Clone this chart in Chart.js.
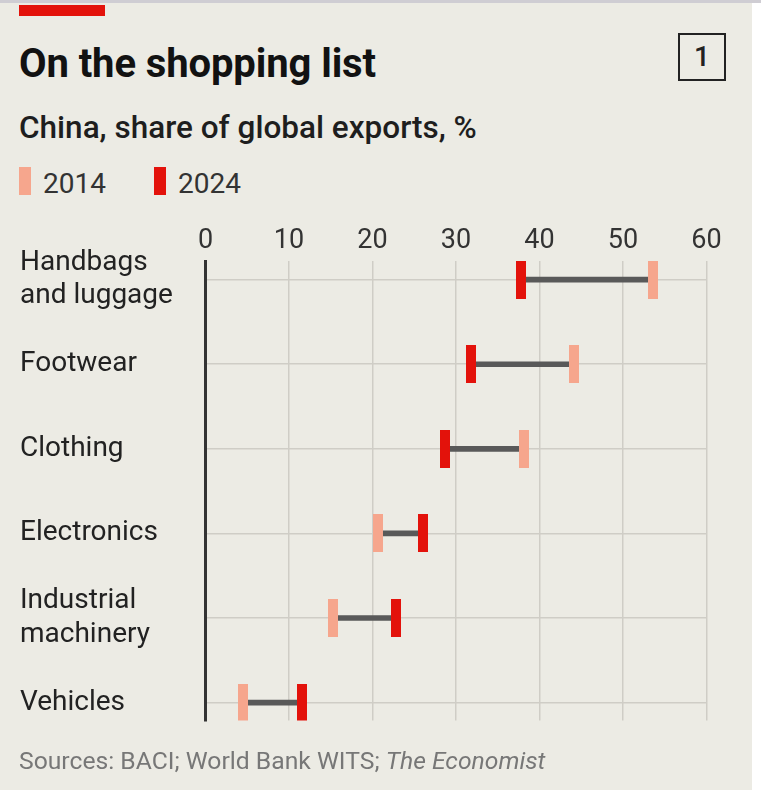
<!DOCTYPE html>
<html>
<head>
<meta charset="utf-8">
<title>On the shopping list</title>
<script src="https://cdn.jsdelivr.net/npm/chart.js@4.4.1/dist/chart.umd.min.js"></script>
<style>
  body { margin: 0; background: #fff; font-family: Roboto, sans-serif; }
  .abs { position: absolute; white-space: nowrap; line-height: 1; }
  #topline { left: 0; top: 0; width: 761px; height: 3px; background: #cfcdd3; }
  #card { left: 0; top: 3px; width: 752px; height: 787px; background: #ecebe4; }
  #redbar { left: 19px; top: 5px; width: 86px; height: 11px; background: #e3120b; }
  #title { left: 19px; top: 44px; font-size: 40px; font-weight: 700; color: #121212; letter-spacing: -0.1px; }
  #num { left: 678px; top: 33px; width: 44px; height: 44px; border: 2px solid #222; font-size: 28px; font-weight: 500; color: #222; text-align: center; line-height: 44px; }
  #subtitle { left: 19px; top: 112px; font-size: 31.5px; font-weight: 500; color: #1e1e1e; }
  .swatch { top: 167px; width: 12px; height: 28px; }
  .legtext { top: 170px; font-size: 28px; color: #333; }
  #source { left: 19px; top: 749px; font-size: 24.7px; color: #777; }
  #chartbox { position: absolute; left: 0; top: 215px; }
</style>
</head>
<body>
<div class="abs" id="topline"></div>
<div class="abs" id="card"></div>
<div class="abs" id="redbar"></div>
<div class="abs" id="title">On the shopping list</div>
<div class="abs" id="num">1</div>
<div class="abs" id="subtitle">China, share of global exports, %</div>
<div class="abs swatch" style="left:19px;background:#f6a68d"></div>
<div class="abs legtext" style="left:43px">2014</div>
<div class="abs swatch" style="left:154px;background:#e3120b"></div>
<div class="abs legtext" style="left:178px">2024</div>
<div id="chartbox"><canvas id="dumbbell" width="752" height="539"></canvas></div>
<div class="abs" id="source">Sources: BACI; World Bank WITS; <i>The Economist</i></div>

<script>
// categories, top to bottom
const categories = ['Handbags and luggage', 'Footwear', 'Clothing', 'Electronics', 'Industrial machinery', 'Vehicles'];
const categoryLabels = [['Handbags', 'and luggage'], 'Footwear', 'Clothing', 'Electronics', ['Industrial', 'machinery'], 'Vehicles'];

// China, share of global exports, %
const share2014 = [53.6, 44.1, 38.2, 20.7, 15.3, 4.5];
const share2024 = [37.8, 31.8, 28.7, 26.1, 22.8, 11.5];

const xTicks = [0, 10, 20, 30, 40, 50, 60];

const pink = '#f6a68d';
const red = '#e3120b';
const gridColor = '#cfcdc6';

// tall thin marker used as point style
function makeMark(color) {
  const c = document.createElement('canvas');
  c.width = 10;
  c.height = 38;
  const g = c.getContext('2d');
  g.fillStyle = color;
  g.fillRect(0, 0, 10, 38);
  return c;
}

Chart.defaults.font.family = 'Roboto';

const ctx = document.getElementById('dumbbell').getContext('2d');
new Chart(ctx, {
  type: 'bar',
  data: {
    datasets: [
      {
        // connector between the two years
        type: 'bar',
        indexAxis: 'y',
        data: categories.map((c, i) => ({ y: i, x: [Math.min(share2014[i], share2024[i]), Math.max(share2014[i], share2024[i])] })),
        backgroundColor: '#595959',
        borderWidth: 0,
        borderSkipped: false,
        barThickness: 5,
        order: 3
      },
      {
        type: 'scatter',
        label: '2014',
        data: categories.map((c, i) => ({ x: share2014[i], y: i })),
        pointStyle: makeMark(pink),
        pointRadius: 5,
        order: 2
      },
      {
        type: 'scatter',
        label: '2024',
        data: categories.map((c, i) => ({ x: share2024[i], y: i })),
        pointStyle: makeMark(red),
        pointRadius: 5,
        order: 1
      }
    ]
  },
  options: {
    indexAxis: 'y',
    responsive: false,
    animation: false,
    events: [],
    layout: { autoPadding: false, padding: { left: 20, right: 45.5, top: 0, bottom: 16 } },
    plugins: {
      legend: { display: false },
      tooltip: { enabled: false }
    },
    scales: {
      x: {
        type: 'linear',
        position: 'top',
        min: 0,
        max: 60,
        afterBuildTicks: (s) => { s.ticks = xTicks.map((v) => ({ value: v })); },
        afterFit: (s) => { s.height = 46; },
        grid: { color: gridColor, lineWidth: 1.5, drawTicks: false },
        border: { display: false },
        ticks: { font: { size: 27 }, color: '#333', padding: 4 }
      },
      y: {
        type: 'linear',
        min: -0.22,
        max: 5.21,
        reverse: true,
        offset: false,
        afterBuildTicks: (s) => { s.ticks = categories.map((c, i) => ({ value: i })); },
        afterFit: (s) => { s.width = 185.5; },
        grid: { color: gridColor, lineWidth: 1.5, drawTicks: false, offset: false },
        border: { display: true, color: '#333', width: 3 },
        ticks: {
          callback: (v) => categoryLabels[v],
          crossAlign: 'far',
          padding: 0,
          font: { size: 28, lineHeight: 1.2 },
          color: '#222'
        }
      }
    }
  }
});
</script>
</body>
</html>
